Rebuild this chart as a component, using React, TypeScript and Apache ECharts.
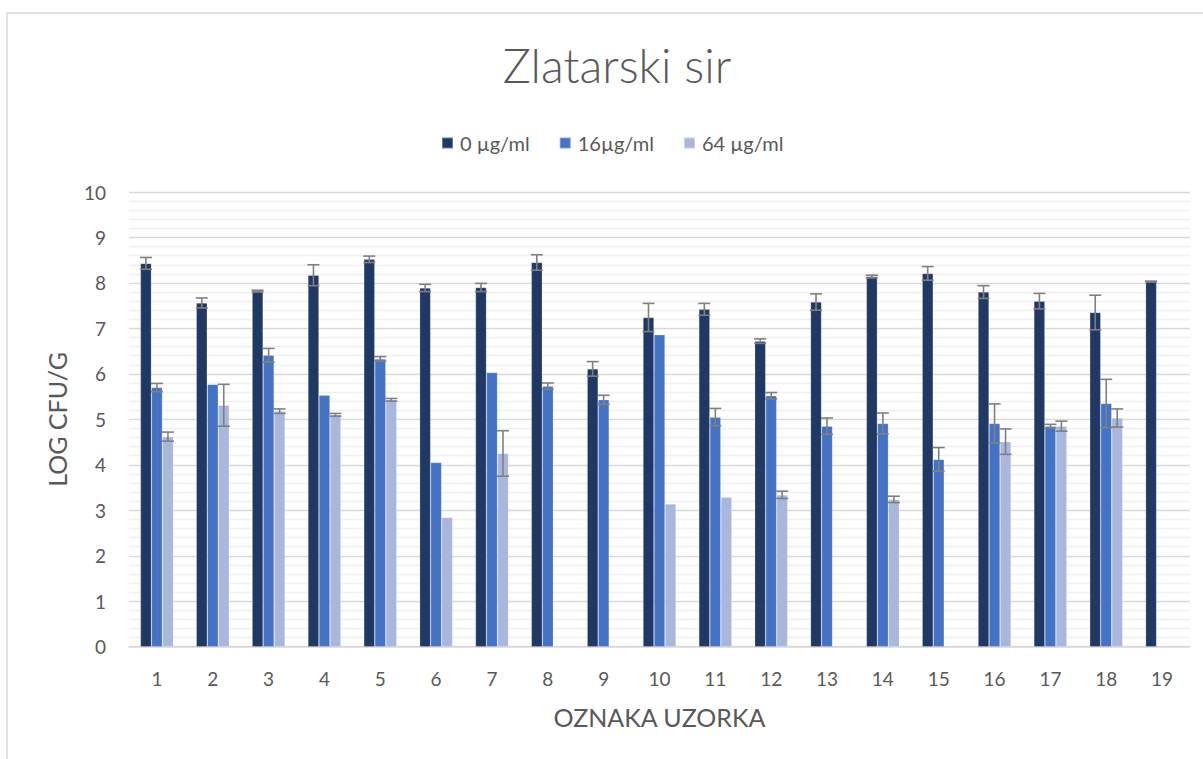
import React, { useEffect, useRef } from "react";
import * as echarts from "echarts";

const categories = ["1","2","3","4","5","6","7","8","9","10","11","12","13","14","15","16","17","18","19"];
const seriesNames = ["0 µg/ml", "16µg/ml", "64 µg/ml"];
const dark = [8.43, 7.56, 7.82, 8.17, 8.52, 7.89, 7.90, 8.45, 6.11, 7.24, 7.42, 6.72, 7.58, 8.14, 8.21, 7.80, 7.60, 7.35, 8.03];
const darkErr = [0.13, 0.11, 0.02, 0.23, 0.07, 0.08, 0.09, 0.17, 0.16, 0.31, 0.13, 0.05, 0.18, 0.03, 0.15, 0.14, 0.17, 0.38, 0.01];
const mid = [5.70, 5.77, 6.41, 5.53, 6.33, 4.05, 6.03, 5.73, 5.43, 6.86, 5.05, 5.52, 4.85, 4.91, 4.12, 4.91, 4.85, 5.35, null];
const midErr = [0.09, 0, 0.15, 0, 0.05, 0, 0, 0.07, 0.10, 0, 0.19, 0.07, 0.18, 0.23, 0.26, 0.43, 0.04, 0.53, 0];
const light = [4.62, 5.31, 5.18, 5.10, 5.43, 2.84, 4.25, null, null, 3.14, 3.29, 3.34, null, 3.24, null, 4.51, 4.85, 5.03, null];
const lightErr = [0.10, 0.46, 0.05, 0.03, 0.03, 0, 0.50, 0, 0, 0, 0, 0.08, 0, 0.07, 0, 0.28, 0.11, 0.20, 0];
const yTicks = [0, 10, 1];

const colors = ["#203864", "#4472C4", "#A9B7DC"];
const FONT = "Lato, 'Open Sans', sans-serif";
const TEXT = "#595959";
const BAR_W = 11;

export default function App() {
  const ref = useRef<HTMLDivElement>(null);
  useEffect(() => {
    if (!ref.current) return;
    const chart = echarts.init(ref.current, null, { renderer: "svg" });
    const values = [dark, mid, light];
    const errs = [darkErr, midErr, lightErr];
    const offsets = [-BAR_W, 0, BAR_W];

    const barSeries = values.map((vals, i) => ({
      name: seriesNames[i],
      type: "bar",
      data: vals,
      barWidth: BAR_W,
      barGap: "0%",
      itemStyle: { color: colors[i], borderColor: "rgba(255,255,255,0.35)", borderWidth: 0.6 },
      z: 2,
    }));

    const errSeries = values.map((vals, i) => ({
      name: "err" + i,
      type: "custom",
      z: 5,
      data: vals
        .map((v, k) => (v == null || !errs[i][k] ? null : [k, v - errs[i][k], v + errs[i][k]]))
        .filter((d) => d !== null),
      renderItem: (params: any, api: any) => {
        const k = api.value(0);
        const lo = api.coord([k, api.value(1)]);
        const hi = api.coord([k, api.value(2)]);
        const x = lo[0] + offsets[i];
        const half = BAR_W / 2 + 0.5;
        const style = { stroke: "#808080", lineWidth: 1.6 };
        return {
          type: "group",
          children: [
            { type: "line", shape: { x1: x, y1: hi[1], x2: x, y2: lo[1] }, style },
            { type: "line", shape: { x1: x - half, y1: hi[1], x2: x + half, y2: hi[1] }, style },
            { type: "line", shape: { x1: x - half, y1: lo[1], x2: x + half, y2: lo[1] }, style },
          ],
        };
      },
    }));

    chart.setOption({
      animation: false,
      backgroundColor: "#ffffff",
      textStyle: { fontFamily: FONT },
      title: {
        text: "Zlatarski sir",
        left: 612,
        textAlign: "center",
        top: 36,
        textStyle: { fontFamily: FONT, fontSize: 47, fontWeight: 300, color: TEXT },
      },
      legend: {
        data: seriesNames,
        left: 436,
        top: 128,
        icon: "rect",
        itemWidth: 11,
        itemHeight: 11,
        itemGap: 29,
        textStyle: { fontFamily: FONT, fontSize: 20, color: TEXT, padding: [0, 0, 0, 2] },
      },
      graphic: [
        {
          type: "rect",
          shape: { x: 7, y: 13, width: 1220, height: 780 },
          style: { fill: "none", stroke: "#d9d9d9", lineWidth: 1.5 },
          z: -1,
          silent: true,
        },
      ],
      grid: { left: 129, right: 13, top: 192, height: 454.7 },
      xAxis: {
        type: "category",
        data: categories,
        axisLine: { lineStyle: { color: "#d9d9d9", width: 1.5 } },
        axisTick: { show: false },
        axisLabel: { fontFamily: FONT, fontSize: 19, color: TEXT, margin: 22 },
        name: "OZNAKA UZORKA",
        nameLocation: "middle",
        nameGap: 58,
        nameTextStyle: { fontFamily: FONT, fontSize: 25, color: TEXT },
      },
      yAxis: {
        type: "value",
        min: yTicks[0],
        max: yTicks[1],
        interval: yTicks[2],
        axisLine: { show: false },
        axisTick: { show: false },
        axisLabel: { fontFamily: FONT, fontSize: 19, color: TEXT, margin: 23 },
        splitLine: { lineStyle: { color: "#d9d9d9", width: 1.3 } },
        minorTick: { show: false, splitNumber: 5 },
        minorSplitLine: { show: true, lineStyle: { color: "#f0f0f0", width: 1.3 } },
        name: "LOG CFU/G",
        nameLocation: "middle",
        nameGap: 60,
        nameTextStyle: { fontFamily: FONT, fontSize: 25, color: TEXT },
      },
      series: [...barSeries, ...errSeries],
    });
    return () => chart.dispose();
  }, []);
  return <div ref={ref} style={{ position: "fixed", left: 0, top: 0, width: 1203, height: 759 }} />;
}
